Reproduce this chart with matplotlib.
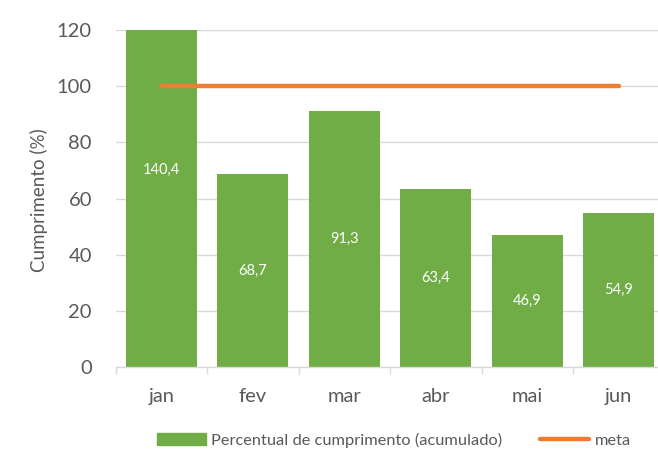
import matplotlib
matplotlib.use("Agg")
import matplotlib.pyplot as plt
from matplotlib.lines import Line2D
from matplotlib.patches import Patch

months = ["jan", "fev", "mar", "abr", "mai", "jun"]
cumprimento = [140.4, 68.7, 91.3, 63.4, 46.9, 54.9]
meta = [100, 100, 100, 100, 100, 100]
value_labels = ["140,4", "68,7", "91,3", "63,4", "46,9", "54,9"]
y_ticks = [0, 20, 40, 60, 80, 100, 120]

plt.rcParams['font.family'] = ['Lato', 'DejaVu Sans']

W, H = 658, 449
fig = plt.figure(figsize=(W/100, H/100), dpi=100)
left, right = 115.5, 664.5
bottom, top = 367, 30
ax = fig.add_axes([left/W, 1 - bottom/H, (right-left)/W, (bottom-top)/H])

green = "#70AD47"
orange = "#ED7D31"
grid = "#D9D9D9"
txt = "#595959"

x = list(range(len(months)))
ax.bar(x, cumprimento, width=0.776, color=green, zorder=2)
ax.plot(x, meta, color=orange, lw=3.2, solid_capstyle="round", zorder=3)
for xi, v, lab in zip(x, cumprimento, value_labels):
    ax.text(xi, v/2, lab, ha="center", va="center", color="white", fontsize=10.5, zorder=4)

ax.set_xlim(-0.5, len(months) - 0.5)
ax.set_ylim(0, 120)
ax.set_yticks(y_ticks)
ax.set_yticklabels([str(t) for t in y_ticks], fontsize=14.5, color=txt)
ax.set_xticks(x)
ax.set_xticklabels(months, fontsize=14.5, color=txt)
ax.tick_params(axis="y", length=0, pad=17)
ax.tick_params(axis="x", which="major", length=0, pad=15)
ax.set_xticks([i - 0.5 for i in range(len(months) + 1)], minor=True)
ax.tick_params(axis="x", which="minor", length=5, color=grid, width=1)
ax.yaxis.grid(True, color=grid, lw=1, zorder=0)
ax.set_axisbelow(True)
for s in ["top", "right", "left"]:
    ax.spines[s].set_visible(False)
ax.spines["bottom"].set_color(grid)
ax.spines["bottom"].set_linewidth(1)
ax.set_ylabel("Cumprimento (%)", fontsize=13.5, color=txt)
ax.yaxis.set_label_coords((48 - left) / (right - left), (367 - 200) / (bottom - top))

handles = [Patch(color=green), Line2D([0], [0], color=orange, lw=3.2, solid_capstyle="round")]
fig.legend(handles, ["Percentual de cumprimento (acumulado)", "meta"],
           loc="center", bbox_to_anchor=(394/W, 1 - 440/H), ncol=2, frameon=False,
           fontsize=11.8, labelcolor=txt, handlelength=3.0, handleheight=0.75,
           handletextpad=0.35, columnspacing=2.3)

fig.savefig("out.png", dpi=100)
